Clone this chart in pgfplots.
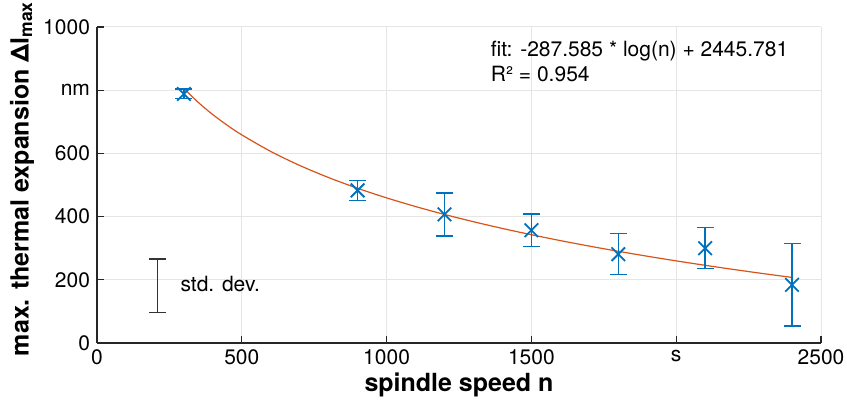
\documentclass[border=0pt]{standalone}
\usepackage{fontspec}
\setmainfont{TeX Gyre Heros}
\usepackage{pgfplots}
\pgfplotsset{compat=1.18}
\usepackage{pgfplotstable}
\definecolor{mblue}{rgb}{0,0.447,0.741}
\definecolor{morange}{rgb}{0.85,0.325,0.098}
\definecolor{axgray}{rgb}{0.15,0.15,0.15}
\definecolor{gridgray}{rgb}{0.9,0.9,0.9}
\pgfplotstableread{
x y e
300 788 15
900 483 32
1200 407 68
1500 357 52
1800 281 65
2100 300 65
2400 184 131
}\measured
\pgfplotstableread{
x y
300 805.46
350 761.13
400 722.73
450 688.86
500 658.56
600 606.13
700 561.80
800 523.40
900 489.53
1000 459.23
1100 431.82
1200 406.79
1300 383.77
1400 362.46
1500 342.62
1600 324.06
1700 306.62
1800 290.18
1900 274.63
2000 259.88
2100 245.85
2200 232.47
2300 219.69
2400 207.45
}\fitcurve
\begin{document}
\begin{tikzpicture}
\useasboundingbox (-48.5pt,-31.5pt) rectangle (375pt,171.5pt);
\begin{axis}[
 scale only axis, width=362pt, height=158pt,
 xmin=0, xmax=2500, ymin=0, ymax=1000,
 xtick={0,500,1000,1500,2000,2500}, xticklabels={0,500,1000,1500,s,2500},
 ytick={0,200,400,600,800,1000}, yticklabels={0,200,400,600,nm,1000},
 axis x line*=bottom, axis y line*=left,
 axis line style={axgray, line width=0.6pt, -},
 tick align=inside, major tick length=3.5pt,
 tick style={axgray, line width=0.6pt},
 grid=major, grid style={gridgray, line width=0.5pt},
 tick label style={font=\fontsize{10.5}{12}\selectfont, text=black},
 /pgf/number format/assume math mode=true,
 xlabel={spindle speed n},
 ylabel={max. thermal expansion Δl\textsubscript{max}},
 label style={font=\bfseries\fontsize{12.5}{15}\selectfont},
 xlabel style={at={(axis description cs:0.5,0)}, anchor=center, yshift=-21pt},
 ylabel style={at={(axis description cs:-0.1036,0.52)}, anchor=center},
]
\addplot[morange, line width=0.6pt, smooth, mark=none] table[x=x,y=y] {\fitcurve};
\addplot[only marks, mark=x, mark size=4.8pt, color=mblue,
  mark options={line width=0.9pt, mblue},
  error bars/.cd, y dir=both, y explicit,
  error bar style={line width=0.75pt, mblue},
  error mark options={rotate=90, mark size=4.25pt, line width=0.75pt, mblue}]
  table[x=x, y=y, y error=e] {\measured};
\addplot[draw=none, mark=none,
  error bars/.cd, y dir=both, y explicit,
  error bar style={draw=black!80, line width=0.6pt},
  error mark options={draw=black!80, rotate=90, mark size=4.25pt, line width=0.6pt}]
  coordinates {(210,181) +- (0,85)};
\node[anchor=west, inner sep=0pt, font=\fontsize{10.5}{12}\selectfont] at (axis cs:287,187) {std. dev.};
\node[anchor=base west, inner sep=0pt, font=\fontsize{10.5}{12}\selectfont] at (axis cs:1359,906) {fit: -287.585 * log(n) + 2445.781};
\node[anchor=base west, inner sep=0pt, font=\fontsize{10.5}{12}\selectfont] at (axis cs:1359,827) {R² = 0.954};
\end{axis}
\end{tikzpicture}
\end{document}
